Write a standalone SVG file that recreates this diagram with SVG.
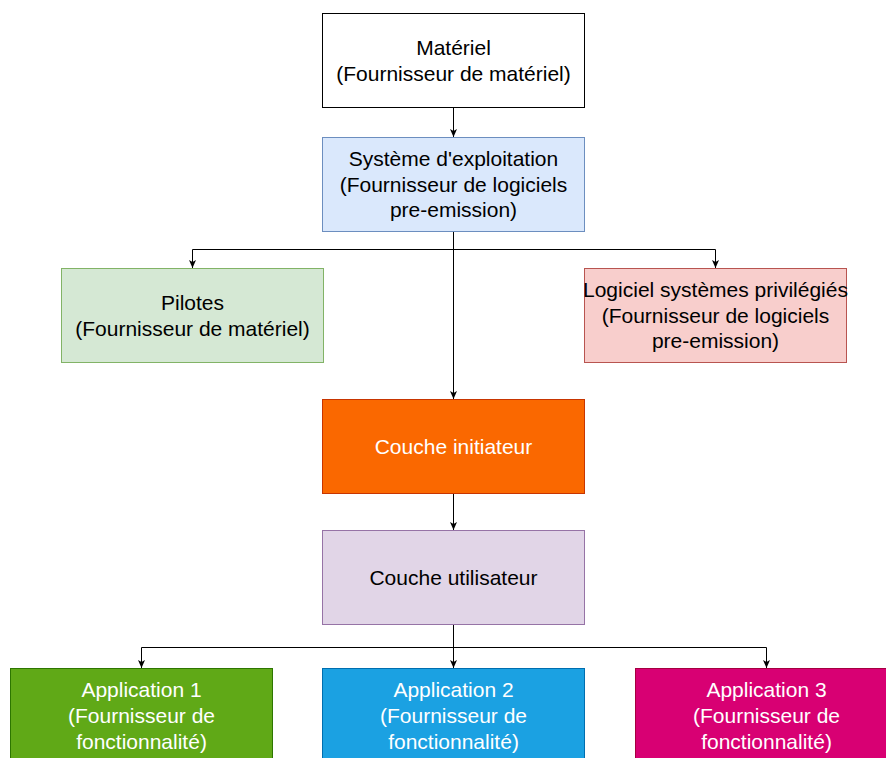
<svg xmlns="http://www.w3.org/2000/svg" width="886" height="758" viewBox="0 0 886 758">
  <style>
    text { font-family: "Liberation Sans", Arial, Helvetica, sans-serif; font-size: 21px; text-anchor: middle; fill: #000; }
    .w { fill: #fff; }
    .box { stroke-width: 1; }
    .edge { fill: none; stroke: #000; stroke-width: 1; marker-end: url(#arr); }
  </style>
  <defs>
    <marker id="arr" viewBox="0 0 8 8" refX="8" refY="4" markerWidth="8" markerHeight="8" markerUnits="userSpaceOnUse" orient="auto">
      <path d="M0,0.5 L8,4 L0,7.5 L2,4 Z" fill="#000"/>
    </marker>
  </defs>
  <rect width="886" height="758" fill="#fff"/>
  <g id="connectors">
    <path class="edge" d="M453.5,107 L453.5,137"/>
    <path class="edge" d="M453.5,231 L453.5,399"/>
    <path class="edge" d="M453.5,249.5 L192.5,249.5 L192.5,268"/>
    <path class="edge" d="M453.5,249.5 L715.5,249.5 L715.5,268"/>
    <path class="edge" d="M453.5,493 L453.5,530"/>
    <path class="edge" d="M453.5,624 L453.5,668"/>
    <path class="edge" d="M453.5,647.5 L141.5,647.5 L141.5,668"/>
    <path class="edge" d="M453.5,647.5 L766.5,647.5 L766.5,668"/>
  </g>
  <g id="materiel">
    <rect class="box" x="322.5" y="13.5" width="262" height="94" fill="#fff" stroke="#000"/>
    <text x="453.5" y="55">Matériel</text>
    <text x="453.5" y="81">(Fournisseur de matériel)</text>
  </g>
  <g id="systeme">
    <rect class="box" x="322.5" y="137.5" width="262" height="94" fill="#dae8fc" stroke="#6c8ebf"/>
    <text x="453.5" y="166">Système d'exploitation</text>
    <text x="453.5" y="192">(Fournisseur de logiciels</text>
    <text x="453.5" y="217">pre-emission)</text>
  </g>
  <g id="pilotes">
    <rect class="box" x="61.5" y="268.5" width="262" height="94" fill="#d5e8d4" stroke="#82b366"/>
    <text x="192.5" y="310">Pilotes</text>
    <text x="192.5" y="336">(Fournisseur de matériel)</text>
  </g>
  <g id="logiciel">
    <rect class="box" x="584.5" y="268.5" width="262" height="94" fill="#f8cecc" stroke="#b85450"/>
    <text x="715.5" y="297">Logiciel systèmes privilégiés</text>
    <text x="715.5" y="323">(Fournisseur de logiciels</text>
    <text x="715.5" y="348">pre-emission)</text>
  </g>
  <g id="initiateur">
    <rect class="box" x="322.5" y="399.5" width="262" height="94" fill="#fa6800" stroke="#c73500"/>
    <text class="w" x="453.5" y="454">Couche initiateur</text>
  </g>
  <g id="utilisateur">
    <rect class="box" x="322.5" y="530.5" width="262" height="94" fill="#e1d5e7" stroke="#9673a6"/>
    <text x="453.5" y="585">Couche utilisateur</text>
  </g>
  <g id="app1">
    <rect class="box" x="10.5" y="668.5" width="262" height="94" fill="#60a917" stroke="#2d7600"/>
    <text class="w" x="141.5" y="697">Application 1</text>
    <text class="w" x="141.5" y="723">(Fournisseur de</text>
    <text class="w" x="141.5" y="749">fonctionnalité)</text>
  </g>
  <g id="app2">
    <rect class="box" x="322.5" y="668.5" width="262" height="94" fill="#1ba1e2" stroke="#006eaf"/>
    <text class="w" x="453.5" y="697">Application 2</text>
    <text class="w" x="453.5" y="723">(Fournisseur de</text>
    <text class="w" x="453.5" y="749">fonctionnalité)</text>
  </g>
  <g id="app3">
    <rect class="box" x="635.5" y="668.5" width="262" height="94" fill="#d80073" stroke="#a50040"/>
    <text class="w" x="766.5" y="697">Application 3</text>
    <text class="w" x="766.5" y="723">(Fournisseur de</text>
    <text class="w" x="766.5" y="749">fonctionnalité)</text>
  </g>
</svg>
